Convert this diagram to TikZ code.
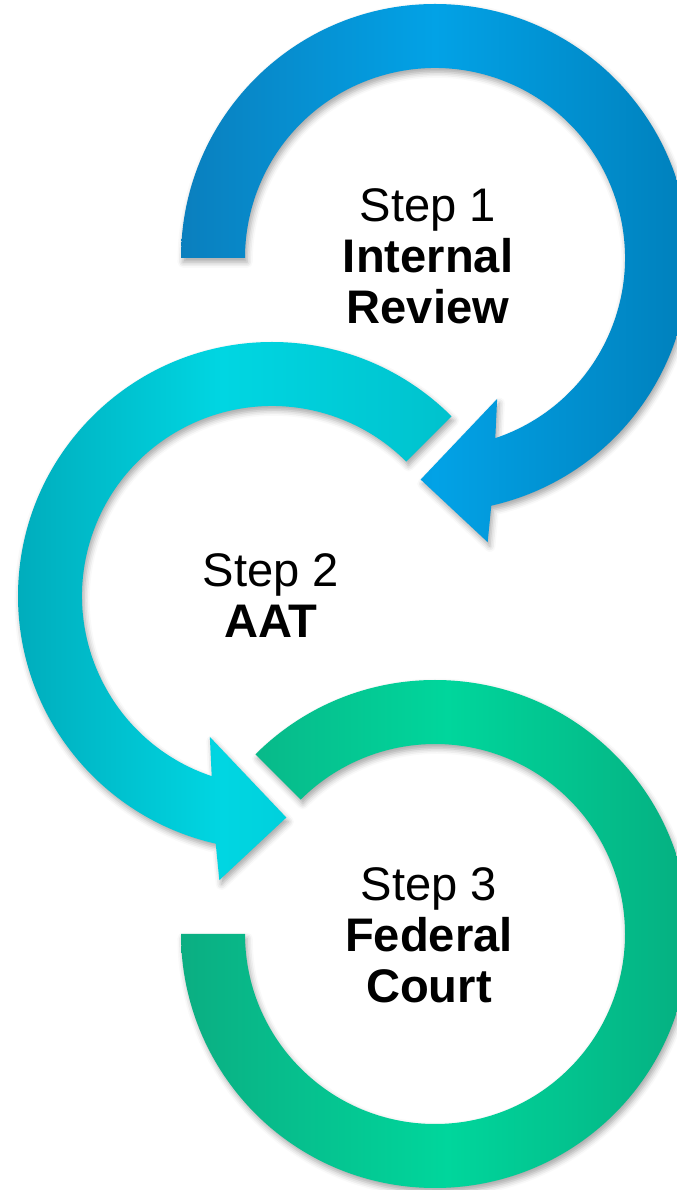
\documentclass[tikz,border=0pt]{standalone}
\usepackage{fontspec}
\setmainfont{Liberation Sans}
\usetikzlibrary{shadows.blur}
\definecolor{blueL}{HTML}{0A7FBE}
\definecolor{blueM}{HTML}{02A2E6}
\definecolor{blueR}{HTML}{0080BC}
\definecolor{cyanL}{HTML}{00A8B8}
\definecolor{cyanM}{HTML}{00D6E2}
\definecolor{cyanR}{HTML}{00C2CD}
\definecolor{greenL}{HTML}{0BAE82}
\definecolor{greenM}{HTML}{00D69C}
\definecolor{greenR}{HTML}{06AC7E}
\tikzset{%
    % soft shadow below every ring
    ring shadow/.style={%
        blur shadow={shadow xshift=0.6pt, shadow yshift=-1.2pt,
                     shadow blur radius=1.6pt, shadow opacity=35},
    },
    % first ring, blue
    ring one/.style={%
        ring shadow,
        left color=blueL, right color=blueR, middle color=blueM,
    },
    % second ring, cyan
    ring two/.style={%
        ring shadow,
        left color=cyanL, right color=cyanR, middle color=cyanM,
    },
    % third ring, green
    ring three/.style={%
        ring shadow,
        left color=greenL, right color=greenR, middle color=greenM,
    },
    % style for the texts in the rings
    step label/.style={%
        align=center,
        inner sep=0pt,
        font=\fontsize{13.4pt}{14.5pt}\selectfont,
    },
}

\begin{document}
\begin{tikzpicture}[x=0.01cm, y=0.01cm]
    % the page has the size of the reference, one unit is one pixel
    \path [use as bounding box] (0,0) rectangle (677,1190);
    % define variables
    %% inner and outer radius of the rings
    \def\ri{190}
    \def\ro{254}
    %% arrow head, angles counted from the bottom of the ring
    \def\hbase{12.8}  % outer edge of the shaft
    \def\hin{18.5}    % inner edge of the shaft
    \def\hbarbo{10.5} % outer barb
    \def\hbarbi{23.8} % inner barb
    \def\htip{3.7}    % tip, past the bottom
    %% radii of the barbs and the tip
    \def\rbo{289}
    \def\rbi{154}
    \def\rtip{222}
    % centres of the rings
    \coordinate (C1) at (435,932);
    \coordinate (C2) at (272,594);
    \coordinate (C3) at (435,256);
    % draw first ring, clockwise from the left end
    \begin{scope}[shift={(C1)}]
        \path [ring one] (180:\ro)
            arc [start angle=180, end angle=-90+\hbase, radius=\ro]
            -- ({-90+\hbarbo}:\rbo) -- ({-90-\htip}:\rtip)
            -- ({-90+\hbarbi}:\rbi) -- ({-90+\hin}:\ri)
            arc [start angle=-90+\hin, end angle=180, radius=\ri] -- cycle;
    \end{scope}
    % draw second ring, counter clockwise from the upper end
    \begin{scope}[shift={(C2)}]
        \path [ring two] (45:\ro)
            arc [start angle=45, end angle=270-\hbase, radius=\ro]
            -- ({270-\hbarbo}:\rbo) -- ({270+\htip}:\rtip)
            -- ({270-\hbarbi}:\rbi) -- ({270-\hin}:\ri)
            arc [start angle=270-\hin, end angle=45, radius=\ri] -- cycle;
    \end{scope}
    % draw third ring, no arrow head
    \begin{scope}[shift={(C3)}]
        \path [ring three] (135:\ro)
            arc [start angle=135, end angle=-180, radius=\ro]
            -- (-180:\ri)
            arc [start angle=-180, end angle=135, radius=\ri] -- cycle;
    \end{scope}
    % labels
    \node (step1) [step label] at (428,934)
        {Step 1\\\textbf{Internal}\\\textbf{Review}};
    \node (step2) [step label] at (271,594)
        {Step 2\\\textbf{AAT}};
    \node (step3) [step label] at (429,255)
        {Step 3\\\textbf{Federal}\\\textbf{Court}};
\end{tikzpicture}
\end{document}
